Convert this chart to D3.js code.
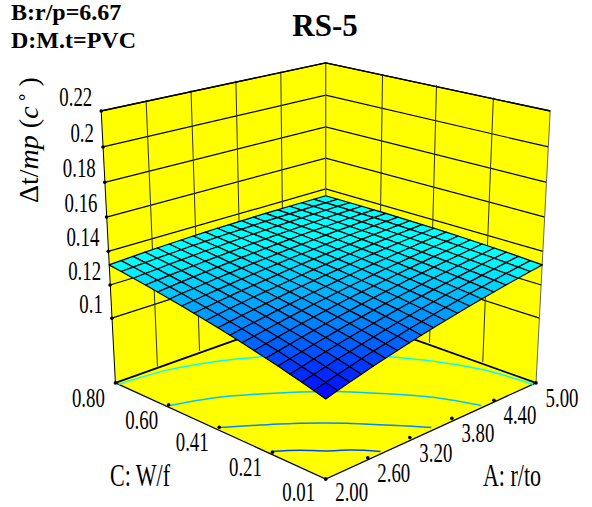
<!DOCTYPE html>
<html>
<head>
<meta charset="utf-8">
<script src="https://cdn.jsdelivr.net/npm/d3@7"></script>
<style>
body { margin:0; background:#fff; }
text { font-family:"Liberation Serif",serif; fill:#000; }
</style>
</head>
<body>
<div id="chart"></div>
<script>
var width=592, height=507;

var aTicks=[2.00,2.60,3.20,3.80,4.40,5.00];
var cTicks=[0.01,0.21,0.41,0.60,0.80];
var zTicks=[0.1,0.12,0.14,0.16,0.18,0.2,0.22];
var aLabels=["2.00","2.60","3.20","3.80","4.40","5.00"];
var cLabels=["0.01","0.21","0.41","0.60","0.80"];
var zLabels=["0.1","0.12","0.14","0.16","0.18","0.2","0.22"];
var aRange=[2,5], cRange=[0.01,0.8], zRange=[0.06,0.22];

// surface, rows run along A, one row per step of C
var surface=[
[.1043,.1058,.1074,.1089,.1105,.1120,.1135,.1151,.1166,.1182,.1197,.1212,.1228,.1243,.1258,.1274,.1289,.1305,.1320],
[.1058,.1073,.1088,.1102,.1117,.1132,.1146,.1161,.1176,.1190,.1205,.1219,.1234,.1249,.1263,.1278,.1293,.1307,.1322],
[.1074,.1088,.1102,.1116,.1129,.1143,.1157,.1171,.1185,.1199,.1213,.1227,.1241,.1254,.1268,.1282,.1296,.1310,.1324],
[.1089,.1102,.1116,.1129,.1142,.1155,.1168,.1181,.1194,.1208,.1221,.1234,.1247,.1260,.1273,.1286,.1300,.1313,.1326],
[.1105,.1117,.1129,.1142,.1154,.1167,.1179,.1191,.1204,.1216,.1229,.1241,.1253,.1266,.1278,.1291,.1303,.1315,.1328],
[.1120,.1132,.1143,.1155,.1167,.1178,.1190,.1201,.1213,.1225,.1236,.1248,.1260,.1271,.1283,.1295,.1306,.1318,.1330],
[.1135,.1146,.1157,.1168,.1179,.1190,.1201,.1212,.1223,.1234,.1244,.1255,.1266,.1277,.1288,.1299,.1310,.1321,.1332],
[.1151,.1161,.1171,.1181,.1191,.1201,.1212,.1222,.1232,.1242,.1252,.1262,.1273,.1283,.1293,.1303,.1313,.1323,.1334],
[.1166,.1176,.1185,.1194,.1204,.1213,.1223,.1232,.1241,.1251,.1260,.1270,.1279,.1288,.1298,.1307,.1317,.1326,.1336],
[.1182,.1190,.1199,.1208,.1216,.1225,.1234,.1242,.1251,.1260,.1268,.1277,.1286,.1294,.1303,.1312,.1320,.1329,.1338],
[.1197,.1205,.1213,.1221,.1229,.1236,.1244,.1252,.1260,.1268,.1276,.1284,.1292,.1300,.1308,.1316,.1324,.1331,.1339],
[.1212,.1219,.1227,.1234,.1241,.1248,.1255,.1262,.1270,.1277,.1284,.1291,.1298,.1305,.1313,.1320,.1327,.1334,.1341],
[.1228,.1234,.1241,.1247,.1253,.1260,.1266,.1273,.1279,.1286,.1292,.1298,.1305,.1311,.1318,.1324,.1331,.1337,.1343],
[.1243,.1249,.1254,.1260,.1266,.1271,.1277,.1283,.1288,.1294,.1300,.1305,.1311,.1317,.1323,.1328,.1334,.1340,.1345],
[.1258,.1263,.1268,.1273,.1278,.1283,.1288,.1293,.1298,.1303,.1308,.1313,.1318,.1323,.1327,.1332,.1337,.1342,.1347],
[.1274,.1278,.1282,.1286,.1291,.1295,.1299,.1303,.1307,.1312,.1316,.1320,.1324,.1328,.1332,.1337,.1341,.1345,.1349],
[.1289,.1293,.1296,.1300,.1303,.1306,.1310,.1313,.1317,.1320,.1324,.1327,.1331,.1334,.1337,.1341,.1344,.1348,.1351],
[.1305,.1307,.1310,.1313,.1315,.1318,.1321,.1323,.1326,.1329,.1331,.1334,.1337,.1340,.1342,.1345,.1348,.1350,.1353],
[.1320,.1322,.1324,.1326,.1328,.1330,.1332,.1334,.1336,.1338,.1339,.1341,.1343,.1345,.1347,.1349,.1351,.1353,.1355]
];

// contour lines on the floor, as [A, C]
var contourLevels=[0.1315,0.1252,0.1186,0.1119];
var contourLines=[
[[2.00,.788],[2.60,.764],[3.08,.718],[3.50,.658],[4.115,.567],[4.46,.404],[4.69,.294],[4.865,.168],[4.955,.01]],
[[2.00,.595],[2.435,.547],[2.837,.477],[3.158,.411],[3.35,.366],[3.524,.315],[3.773,.230],[4.04,.125],[4.22,.01]],
[[2.00,.407],[2.324,.342],[2.636,.275],[2.825,.227],[3.005,.177],[3.26,.095],[3.506,.01]],
[[2.00,.216],[2.228,.166],[2.399,.115],[2.594,.07],[2.783,.01]]
];

var aScale=d3.scaleLinear().domain(aRange).range([0,1]);
var cScale=d3.scaleLinear().domain(cRange).range([0,1]);
var zScale=d3.scaleLinear().domain(zRange).range([0,1]);
var colorScale=d3.scaleLinear().domain([0.1043,0.1315]).range(["#0000ff","#00ffff"]).clamp(true);

// box projection, fitted to the corners of the picture
function project(A,C,Z){
	var a=aScale(A), c=cScale(C), z=zScale(Z);
	var sx=210.3+14.2*z;
	var v=a+c;
	return [325.7+(a-c)*sx,(479-42.5*v-318*z)/(1+0.14*v-0.072*z)];
}

var svg=d3.select("#chart").append("svg")
	.attr("width",width)
	.attr("height",height)
	.style("display","block");

var line=d3.line();
var poly=function(pts){ return line(pts)+"Z"; };
var aMin=aRange[0], aMax=aRange[1], cMin=cRange[0], cMax=cRange[1], zMin=zRange[0], zMax=zRange[1];

// walls and floor
var walls=svg.append("g");
walls.append("path")
	.attr("d",poly([project(aMin,cMax,zMin),project(aMax,cMax,zMin),project(aMax,cMax,zMax),project(aMin,cMax,zMax)]))
	.attr("fill","#ffff00");
walls.append("path")
	.attr("d",poly([project(aMax,cMin,zMin),project(aMax,cMax,zMin),project(aMax,cMax,zMax),project(aMax,cMin,zMax)]))
	.attr("fill","#ffff00");
walls.append("path")
	.attr("d",poly([project(aMin,cMin,zMin),project(aMax,cMin,zMin),project(aMax,cMax,zMin),project(aMin,cMax,zMin)]))
	.attr("fill","#ffff00");

// wall grid
zTicks.forEach(function(t){
	walls.append("path")
		.attr("d",line([project(aMin,cMax,t),project(aMax,cMax,t),project(aMax,cMin,t)]))
		.attr("fill","none").attr("stroke","#000").attr("stroke-width",1.2);
});
aTicks.slice(1,-1).forEach(function(t){
	walls.append("path")
		.attr("d",line([project(t,cMax,zMin),project(t,cMax,zMax)]))
		.attr("fill","none").attr("stroke","#333").attr("stroke-width",1);
});
cTicks.slice(1,-1).forEach(function(t){
	walls.append("path")
		.attr("d",line([project(aMax,t,zMin),project(aMax,t,zMax)]))
		.attr("fill","none").attr("stroke","#333").attr("stroke-width",1);
});
walls.append("path")
	.attr("d",line([project(aMax,cMax,zMin),project(aMax,cMax,zMax)]))
	.attr("fill","none").attr("stroke","#555").attr("stroke-width",1.2);
walls.append("path")
	.attr("d",line([project(aMax,cMin,zMin),project(aMax,cMin,zMax)]))
	.attr("fill","none").attr("stroke","#666").attr("stroke-width",1);
walls.append("path")
	.attr("d",line([project(aMin,cMax,zMin),project(aMin,cMax,zMax)]))
	.attr("fill","none").attr("stroke","#000").attr("stroke-width",1);
walls.append("path")
	.attr("d",line([project(aMin,cMax,zMax),project(aMax,cMax,zMax),project(aMax,cMin,zMax)]))
	.attr("fill","none").attr("stroke","#000").attr("stroke-width",1.4);

// floor edges
walls.append("path")
	.attr("d",line([project(aMin,cMax,zMin),project(aMax,cMax,zMin),project(aMax,cMin,zMin)]))
	.attr("fill","none").attr("stroke","#000").attr("stroke-width",1.8);
walls.append("path")
	.attr("d",line([project(aMin,cMax,zMin),project(aMin,cMin,zMin),project(aMax,cMin,zMin)]))
	.attr("fill","none").attr("stroke","#000").attr("stroke-width",1.2);

// contours on the floor
var contourPath=d3.line()
	.x(function(d){ return project(d[0],d[1],zMin)[0]; })
	.y(function(d){ return project(d[0],d[1],zMin)[1]; })
	.curve(d3.curveCatmullRom);
svg.append("g").selectAll("path")
	.data(contourLines)
	.enter().append("path")
	.attr("d",contourPath)
	.attr("fill","none")
	.attr("stroke",function(d,i){ return colorScale(contourLevels[i]); })
	.attr("stroke-width",1.5);

// surface, back cells first
var n=surface.length-1;
var aStep=d3.scaleLinear().domain([0,n]).range(aRange);
var cStep=d3.scaleLinear().domain([0,n]).range(cRange);
var cells=[];
d3.range(n).forEach(function(j){
	d3.range(n).forEach(function(i){
		cells.push({i:i,j:j,v:(surface[j][i]+surface[j][i+1]+surface[j+1][i]+surface[j+1][i+1])/4});
	});
});
cells.sort(function(p,q){ return (q.i+q.j)-(p.i+p.j); });
svg.append("g").selectAll("path")
	.data(cells)
	.enter().append("path")
	.attr("d",function(d){
		return poly([
			project(aStep(d.i),cStep(d.j),surface[d.j][d.i]),
			project(aStep(d.i+1),cStep(d.j),surface[d.j][d.i+1]),
			project(aStep(d.i+1),cStep(d.j+1),surface[d.j+1][d.i+1]),
			project(aStep(d.i),cStep(d.j+1),surface[d.j+1][d.i])
		]);
	})
	.attr("fill",function(d){ return colorScale(d.v); })
	.attr("stroke","#000")
	.attr("stroke-width",1.2)
	.attr("stroke-linejoin","round");

// tick dots
var dots=[];
zTicks.forEach(function(t){ dots.push(project(aMin,cMax,t)); });
aTicks.forEach(function(t){ dots.push(project(t,cMin,zMin)); });
cTicks.forEach(function(t){ dots.push(project(aMin,t,zMin)); });
svg.append("g").selectAll("circle")
	.data(dots)
	.enter().append("circle")
	.attr("cx",function(d){ return d[0]; })
	.attr("cy",function(d){ return d[1]; })
	.attr("r",1.8)
	.attr("fill","#000");

// narrow tall labels, same as the export
var narrow=0.71, labelSize=26.5;
function squeezed(x,y,str,anchor){
	return svg.append("text")
		.attr("transform","translate("+x+","+y+") scale("+narrow+",1)")
		.attr("text-anchor",anchor)
		.attr("font-size",labelSize)
		.text(str);
}

zTicks.forEach(function(t,i){
	var p=project(aMin,cMax,t);
	squeezed(p[0]-9,p[1]-5,zLabels[i],"end");
});
cTicks.forEach(function(t,i){
	var p=project(aMin,t,zMin);
	squeezed(p[0]-27,Math.min(p[1]+24,501),cLabels[i],"middle");
});
aTicks.forEach(function(t,i){
	var p=project(t,cMin,zMin);
	squeezed(p[0]+26,Math.min(p[1]+24,501),aLabels[i],"middle");
});

squeezed(140,486,"C: W/f","middle").attr("font-size",31);
squeezed(512,486,"A: r/to","middle").attr("font-size",31);

// rotated z title
var zTitle=svg.append("text")
	.attr("transform","translate(38,203) rotate(-90)")
	.attr("font-size",28);
zTitle.append("tspan").text("\u0394t/");
zTitle.append("tspan").attr("font-style","italic").text("mp");
zTitle.append("tspan").text(" (");
zTitle.append("tspan").attr("font-style","italic").text("c");
zTitle.append("tspan").attr("dx",3).attr("dy",-11).attr("font-size",18).text("\u2218");
zTitle.append("tspan").attr("dx",6).attr("dy",11).text(")");

// factor notes and title
svg.append("text").attr("x",11).attr("y",20)
	.attr("font-size",24).attr("font-weight","bold").text("B:r/p=6.67");
svg.append("text").attr("x",11).attr("y",48)
	.attr("font-size",24).attr("font-weight","bold").text("D:M.t=PVC");
svg.append("text").attr("x",325).attr("y",36)
	.attr("text-anchor","middle")
	.attr("font-size",31).attr("font-weight","bold").text("RS-5");
</script>
</body>
</html>
